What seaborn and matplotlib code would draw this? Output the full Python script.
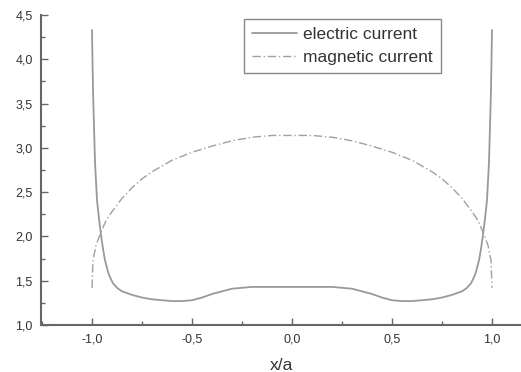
import numpy as np
import pandas as pd
import seaborn as sns
import matplotlib.pyplot as plt
from matplotlib.ticker import MultipleLocator, FuncFormatter

# values (symmetric about x = 0)
x_half_e = [-1.0, -0.995, -0.985, -0.975, -0.965, -0.955, -0.945, -0.935, -0.92,
            -0.91, -0.895, -0.875, -0.85, -0.8, -0.75, -0.7, -0.65, -0.6, -0.55,
            -0.5, -0.45, -0.4, -0.35, -0.3, -0.25, -0.2, -0.1, 0.0]
y_half_e = [4.33, 3.65, 2.84, 2.41, 2.20, 2.02, 1.86, 1.73, 1.60,
            1.54, 1.47, 1.42, 1.38, 1.34, 1.31, 1.29, 1.28, 1.27, 1.27,
            1.28, 1.31, 1.35, 1.38, 1.41, 1.42, 1.43, 1.43, 1.43]

x_half_m = [-1.0, -0.995, -0.98, -0.96, -0.93, -0.9, -0.85, -0.8, -0.75, -0.7,
            -0.6, -0.5, -0.4, -0.3, -0.2, -0.1, 0.0]
y_half_m = [1.42, 1.73, 1.90, 2.02, 2.18, 2.28, 2.43, 2.55, 2.65, 2.73,
            2.86, 2.95, 3.02, 3.08, 3.12, 3.14, 3.14]

x_e = x_half_e + [-v for v in x_half_e[-2::-1]]
y_e = y_half_e + y_half_e[-2::-1]
x_m = x_half_m + [-v for v in x_half_m[-2::-1]]
y_m = y_half_m + y_half_m[-2::-1]

series_names = ["electric current", "magnetic current"]

sns.set_style("white")
plt.rcParams['font.family'] = ['Liberation Sans', 'DejaVu Sans']

fig = plt.figure(figsize=(5.21, 3.72), dpi=100)
ax = fig.add_axes([41 / 521, 47 / 372, 480 / 521, 310 / 372])

sns.lineplot(x=x_e, y=y_e, ax=ax, color="#999999", lw=1.3, sort=False,
             label=series_names[0])
sns.lineplot(x=x_m, y=y_m, ax=ax, color="#a0a0a0", lw=1.0, sort=False,
             linestyle=(0, (6, 2, 1, 2)), label=series_names[1])

ax.set_xlim(-1.255, 1.145)
ax.set_ylim(1.0, 4.5)
ax.xaxis.set_major_locator(MultipleLocator(0.5))
ax.xaxis.set_minor_locator(MultipleLocator(0.25))
ax.yaxis.set_major_locator(MultipleLocator(0.5))
ax.yaxis.set_minor_locator(MultipleLocator(0.25))
comma = FuncFormatter(lambda v, p: f"{v:.1f}".replace(".", ",").replace("-0,0", "0,0"))
ax.xaxis.set_major_formatter(comma)
ax.yaxis.set_major_formatter(comma)

for s in ["top", "right"]:
    ax.spines[s].set_visible(False)
for s in ["left", "bottom"]:
    ax.spines[s].set_color("#666666")
    ax.spines[s].set_linewidth(1.5)

ax.tick_params(which="major", direction="in", length=5, width=1, color="#666666",
               labelsize=9, labelcolor="#333333", pad=6)
ax.tick_params(which="minor", direction="in", length=3, width=1, color="#666666")
ax.tick_params(axis="y", left=True, which="both")
ax.tick_params(axis="x", bottom=True, which="both")

ax.set_xlabel("x/a", fontsize=12.5, color="#333333", labelpad=9)
ax.set_ylabel("")

leg = ax.legend(loc="upper left", bbox_to_anchor=(0.423, 0.987), fontsize=12.5,
                borderaxespad=0, frameon=True, fancybox=False, framealpha=1,
                edgecolor="#888888", handlelength=2.6, borderpad=0.45,
                labelspacing=0.45, handletextpad=0.35)
leg.get_frame().set_linewidth(1.0)
for t in leg.get_texts():
    t.set_color("#333333")

fig.savefig("out.png", dpi=100)
